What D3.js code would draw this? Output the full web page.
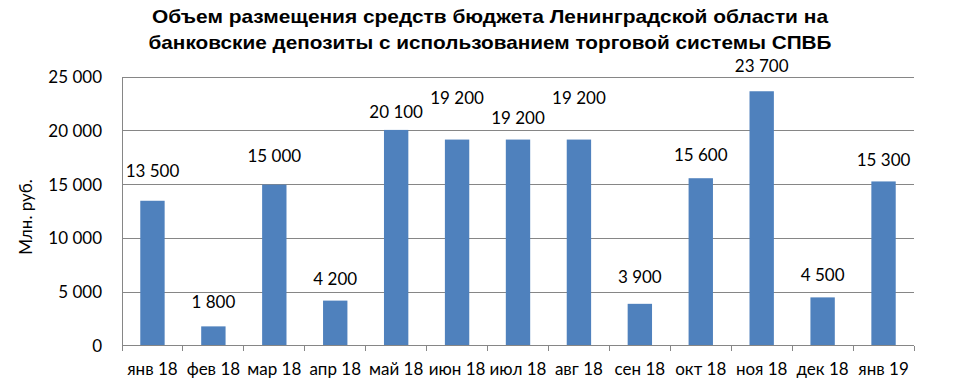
<!DOCTYPE html>
<html><head><meta charset="utf-8">
<script src="https://cdn.jsdelivr.net/npm/d3@7"></script>
<style>body{margin:0;background:#fff;} svg{display:block;}</style>
</head><body>
<svg id="c" width="973" height="391"></svg>
<script>
const categories = ["янв 18","фев 18","мар 18","апр 18","май 18","июн 18","июл 18","авг 18","сен 18","окт 18","ноя 18","дек 18","янв 19"];
const values = [13500,1800,15000,4200,20100,19200,19200,19200,3900,15600,23700,4500,15300];
const yTicks = [0,5000,10000,15000,20000,25000];
const titleLines = ["Объем размещения средств бюджета Ленинградской области на","банковские депозиты с  использованием торговой системы СПВБ"];
const yLabel = "Млн. руб.";

const svg = d3.select("#c");
const m = {left:122, right:914, top:77.3, bottom:345.7};
const fmt = v => d3.format(",")(v).replace(/,/g, " ");
const font = "Lato, 'Open Sans', sans-serif";

const x = d3.scaleBand().domain(categories).range([m.left, m.right]).paddingInner(0.6).paddingOuter(0.3);
const xb = d3.scaleLinear().domain([0, categories.length]).range([m.left, m.right]);
const y = d3.scaleLinear().domain([0,25000]).range([m.bottom, m.top]);

// gridlines
svg.append("g").selectAll("line").data(yTicks.filter(t=>t>0)).join("line")
  .attr("x1", m.left).attr("x2", m.right)
  .attr("y1", d=>y(d)).attr("y2", d=>y(d))
  .attr("stroke","#868686").attr("stroke-width",1).attr("shape-rendering","crispEdges");

// y axis
const yAxis = d3.axisLeft(y).tickValues(yTicks).tickSize(0).tickPadding(20).tickFormat(fmt);
const gy = svg.append("g").attr("transform",`translate(${m.left},0)`).call(yAxis);
gy.select(".domain").attr("stroke","#868686").attr("shape-rendering","crispEdges");
gy.selectAll("text").attr("font-family",font).attr("font-size","17px").attr("fill","#000");

// bars
svg.append("g").selectAll("rect").data(values).join("rect")
  .attr("x",(d,i)=>x(categories[i])).attr("width",x.bandwidth())
  .attr("y",d=>y(d)).attr("height",d=>y(0)-y(d))
  .attr("fill","#4F81BD");

// x axis
svg.append("line").attr("x1",m.left).attr("x2",m.right).attr("y1",y(0)).attr("y2",y(0))
  .attr("stroke","#868686").attr("shape-rendering","crispEdges");
svg.append("g").selectAll("line").data(d3.range(categories.length+1)).join("line")
  .attr("x1",d=>xb(d)).attr("x2",d=>xb(d)).attr("y1",y(0)).attr("y2",y(0)+5)
  .attr("stroke","#868686").attr("shape-rendering","crispEdges");
svg.append("g").selectAll("text").data(categories).join("text")
  .attr("x",d=>x(d)+x.bandwidth()/2).attr("y",375)
  .attr("text-anchor","middle").attr("font-family",font).attr("font-size","17px").attr("fill","#000")
  .text(d=>d);

// data labels (placement offsets above bar tops, as in the reference)
const labelOffsets = [30,24,29,22,18,42,22,42,27,23,25,22,21];
svg.append("g").selectAll("text").data(values).join("text")
  .attr("x",(d,i)=>x(categories[i])+x.bandwidth()/2)
  .attr("y",(d,i)=>y(d)-labelOffsets[i])
  .attr("dy","0.35em")
  .attr("text-anchor","middle").attr("font-family",font).attr("font-size","17px").attr("fill","#000")
  .text(d=>fmt(d));

// y label
svg.append("text").attr("transform","translate(32,217) rotate(-90)")
  .attr("text-anchor","middle").attr("font-family",font).attr("font-size","17px").attr("fill","#000")
  .text(yLabel);

// title
const tl = [676, 683];
svg.append("g").selectAll("text").data(titleLines).join("text")
  .attr("x",490).attr("y",(d,i)=>23+i*26)
  .attr("text-anchor","middle").attr("font-family","'Liberation Sans', Arial, sans-serif")
  .attr("font-weight","bold").attr("font-size","19px").attr("fill","#000")
  .attr("textLength",(d,i)=>tl[i]).attr("lengthAdjust","spacingAndGlyphs")
  .text(d=>d);
</script>
</body></html>
